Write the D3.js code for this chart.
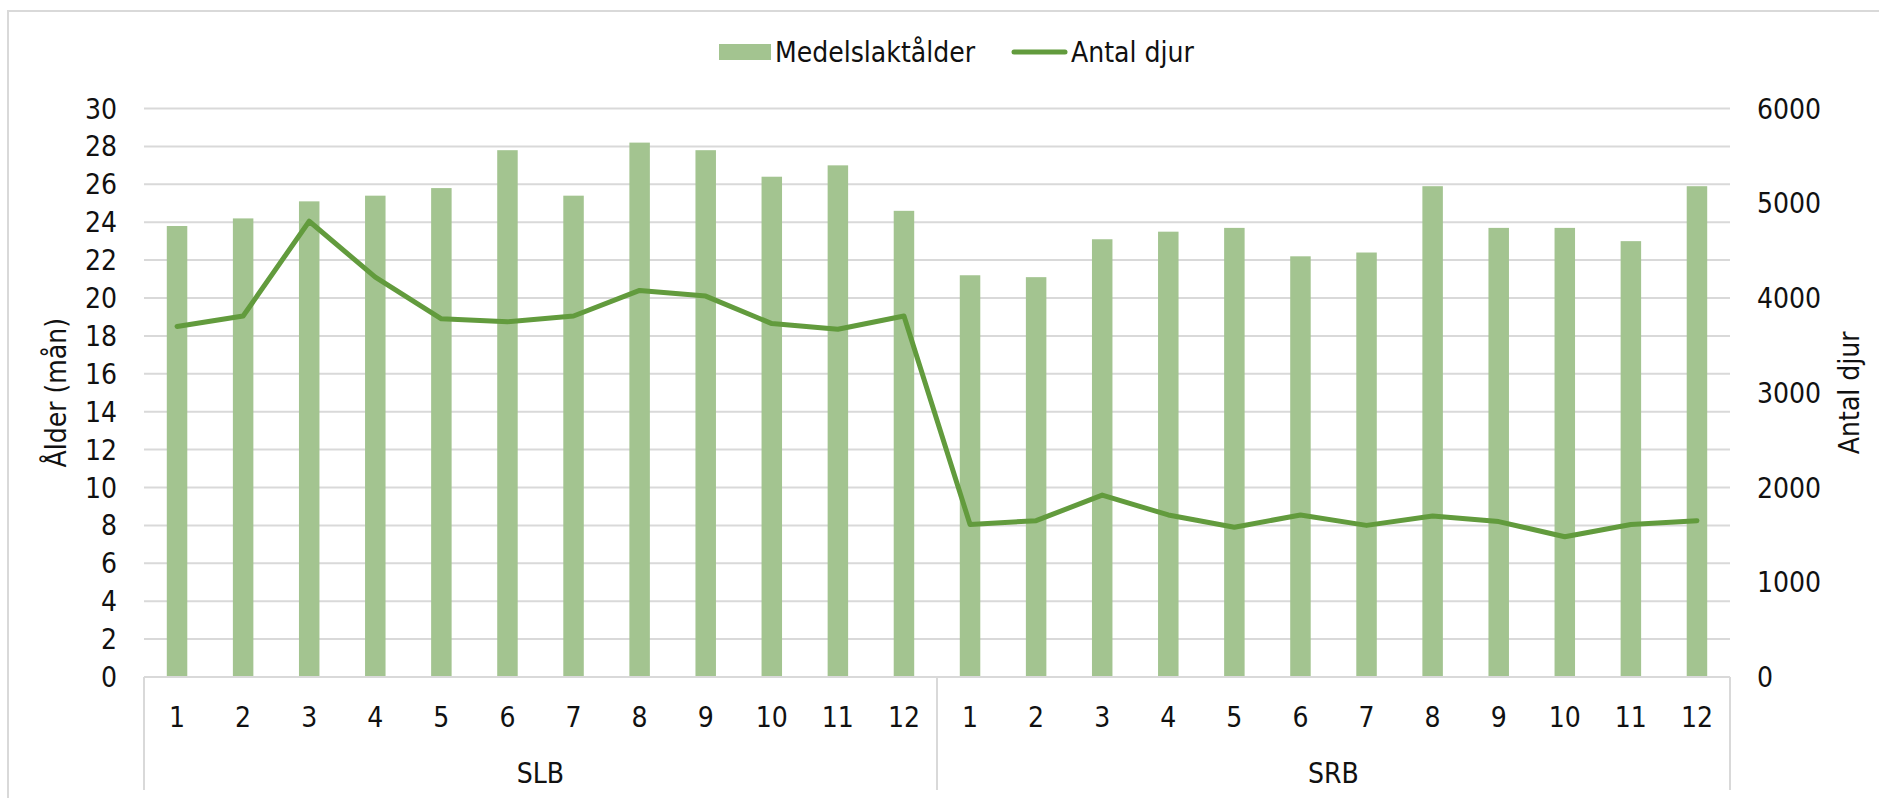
<!DOCTYPE html>
<meta charset="utf-8">
<title>Medelslaktålder och antal djur</title>
<style>
body { margin: 0; background: #fff; }
svg text {
	font-family: "DejaVu Sans Condensed", "DejaVu Sans", sans-serif;
	font-size: 28px;
	fill: #111;
}
.grid line { stroke: #d9d9d9; stroke-width: 2px; }
.frame { fill: none; stroke: #d9d9d9; stroke-width: 2px; }
</style>
<svg width="1879" height="798"></svg>
<script src="https://d3js.org/d3.v7.min.js"></script>
<script>
var groups = ['SLB', 'SRB']
var months = ['1', '2', '3', '4', '5', '6', '7', '8', '9', '10', '11', '12']

// Medelslaktålder (mån)
var ageSLB = [23.8, 24.2, 25.1, 25.4, 25.8, 27.8, 25.4, 28.2, 27.8, 26.4, 27.0, 24.6]
var ageSRB = [21.2, 21.1, 23.1, 23.5, 23.7, 22.2, 22.4, 25.9, 23.7, 23.7, 23.0, 25.9]

// Antal djur
var countSLB = [3700, 3810, 4810, 4220, 3780, 3750, 3810, 4080, 4020, 3730, 3670, 3810]
var countSRB = [1610, 1650, 1920, 1710, 1580, 1710, 1600, 1700, 1640, 1480, 1610, 1650]

var leftTicks = d3.range(0, 31, 2)
var rightTicks = [0, 1000, 2000, 3000, 4000, 5000, 6000]

var rows = []
groups.forEach(function(g, gi) {
	var ages = gi == 0 ? ageSLB : ageSRB
	var counts = gi == 0 ? countSLB : countSRB
	months.forEach(function(m, i) {
		rows.push({ key: g + '-' + m, group: g, month: m, age: ages[i], count: counts[i] })
	})
})

var svg = d3.select('svg')
var plotLeft = 144, plotRight = 1730, plotTop = 108.5, plotBottom = 677

// chart frame (cut off at right and bottom like the source)
svg.append('rect').attr('class', 'frame')
	.attr('x', 8).attr('y', 11).attr('width', 1900).attr('height', 900)

var x = d3.scaleBand().domain(rows.map(function(d) { return d.key }))
	.range([plotLeft, plotRight]).paddingInner(0.69).paddingOuter(0.345)
var y = d3.scaleLinear().domain([0, 30]).range([plotBottom, plotTop])
var y2 = d3.scaleLinear().domain([0, 6000]).range([plotBottom, plotTop])

// gridlines
svg.append('g').attr('class', 'grid')
	.selectAll('line').data(leftTicks.slice(1)).enter().append('line')
		.attr('x1', plotLeft).attr('x2', plotRight)
		.attr('y1', function(d) { return y(d) }).attr('y2', function(d) { return y(d) })

// bars
svg.append('g').selectAll('rect').data(rows).enter().append('rect')
	.attr('x', function(d) { return x(d.key) })
	.attr('width', x.bandwidth())
	.attr('y', function(d) { return y(d.age) })
	.attr('height', function(d) { return plotBottom - y(d.age) })
	.attr('fill', '#a3c490')

// category axis lines
var ax = svg.append('g').attr('class', 'grid')
ax.append('line').attr('x1', plotLeft).attr('x2', plotRight).attr('y1', plotBottom).attr('y2', plotBottom)
var step = x.step()
var bounds = [plotLeft, plotLeft + step * 12, plotRight]
ax.selectAll('line.sep').data(bounds).enter().append('line').attr('class', 'sep')
	.attr('x1', function(d) { return d }).attr('x2', function(d) { return d })
	.attr('y1', plotBottom).attr('y2', 790)

// line
var line = d3.line()
	.x(function(d) { return x(d.key) + x.bandwidth() / 2 })
	.y(function(d) { return y2(d.count) })
svg.append('path').datum(rows)
	.attr('d', line)
	.attr('fill', 'none')
	.attr('stroke', '#629b3d')
	.attr('stroke-width', 5)
	.attr('stroke-linejoin', 'round')
	.attr('stroke-linecap', 'round')

// left axis labels
svg.append('g').selectAll('text').data(leftTicks).enter().append('text')
	.attr('x', 117).attr('y', function(d) { return y(d) })
	.attr('dy', '0.36em').attr('text-anchor', 'end')
	.text(function(d) { return d })

// right axis labels
svg.append('g').selectAll('text').data(rightTicks).enter().append('text')
	.attr('x', 1757).attr('y', function(d) { return y2(d) })
	.attr('dy', '0.36em')
	.text(function(d) { return d })

// month labels
svg.append('g').selectAll('text').data(rows).enter().append('text')
	.attr('x', function(d) { return x(d.key) + x.bandwidth() / 2 })
	.attr('y', 727).attr('text-anchor', 'middle')
	.text(function(d) { return d.month })

// group labels
svg.append('g').selectAll('text').data(groups).enter().append('text')
	.attr('x', function(d, i) { return (bounds[i] + bounds[i + 1]) / 2 })
	.attr('y', 783).attr('text-anchor', 'middle')
	.text(function(d) { return d })

// axis titles
var midY = (plotTop + plotBottom) / 2
svg.append('text').attr('transform', 'translate(66,' + midY + ') rotate(-90)')
	.attr('text-anchor', 'middle').text('Ålder (mån)')
svg.append('text').attr('transform', 'translate(1859,' + midY + ') rotate(-90)')
	.attr('text-anchor', 'middle').text('Antal djur')

// legend
var lg = svg.append('g')
lg.append('rect').attr('x', 719).attr('y', 44).attr('width', 52).attr('height', 16).attr('fill', '#a3c490')
lg.append('text').attr('x', 775).attr('y', 62).text('Medelslaktålder')
lg.append('line').attr('x1', 1014).attr('x2', 1065).attr('y1', 52).attr('y2', 52)
	.attr('stroke', '#629b3d').attr('stroke-width', 5).attr('stroke-linecap', 'round')
lg.append('text').attr('x', 1071).attr('y', 62).text('Antal djur')
</script>
